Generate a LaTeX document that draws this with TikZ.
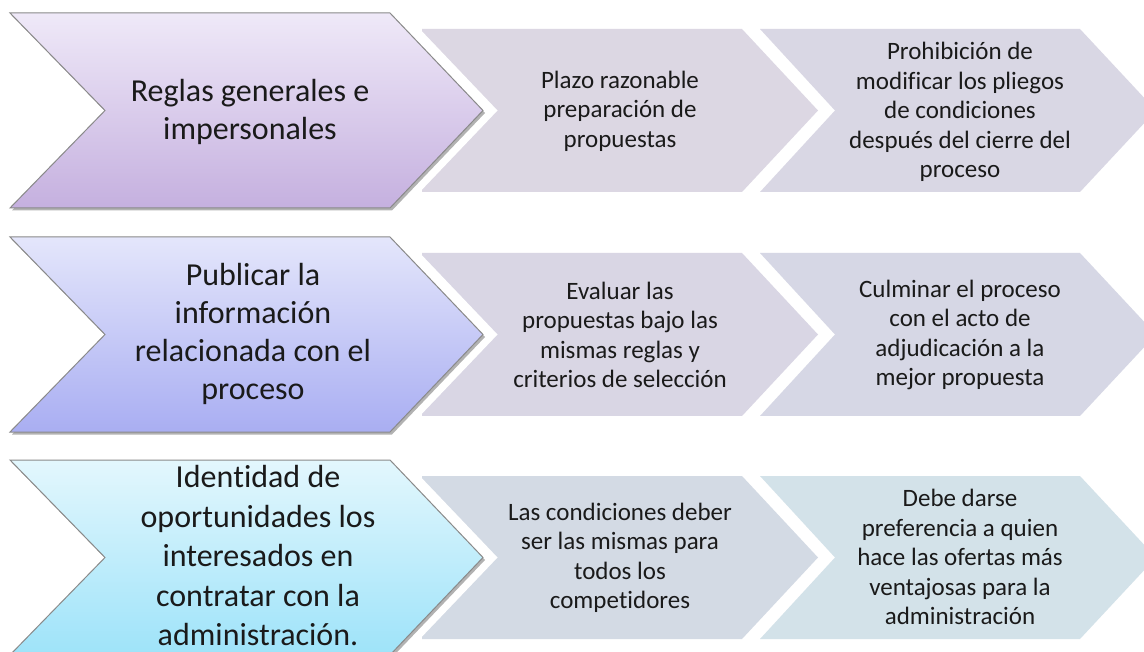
\documentclass[tikz,border=0pt]{standalone}
\usepackage{fontspec}
\setmainfont{Carlito}[Ligatures={NoCommon,NoContextual}]
\usetikzlibrary{shadows}
\newcommand\nolig{\kern0pt }
\definecolor{txt}{HTML}{1A1A1A}
\definecolor{bord}{HTML}{8A8A8A}
\definecolor{sA1}{HTML}{DCD7E3}
\definecolor{sB1}{HTML}{D9D7E4}
\definecolor{sA2}{HTML}{D9D6E4}
\definecolor{sB2}{HTML}{D6D7E5}
\definecolor{sA3}{HTML}{D3DAE4}
\definecolor{sB3}{HTML}{D3E2E9}
\definecolor{t1}{HTML}{EFE9F8}
\definecolor{b1}{HTML}{C5B0DF}
\definecolor{t2}{HTML}{E4E6FB}
\definecolor{b2}{HTML}{A9AEF2}
\definecolor{t3}{HTML}{E3F7FD}
\definecolor{b3}{HTML}{9EE3F9}
\tikzset{
  bigtext/.style={align=center, text=txt, inner sep=0pt, font=\fontsize{32}{38}\selectfont},
  bigtextb/.style={align=center, text=txt, inner sep=0pt, font=\fontsize{32}{39.5}\selectfont},
  smalltext/.style={align=center, text=txt, inner sep=0pt, font=\fontsize{25}{29.5}\selectfont},
  whitegap/.style={draw=white, line width=21pt, line join=miter, miter limit=10},
  bigchevstyle/.style={draw=bord, line width=1pt, line join=miter,
    drop shadow={shadow xshift=2pt, shadow yshift=-2.5pt, fill=black, opacity=0.3}},
}
\newcommand\bigchev[3]{%
  \path[whitegap] (10,#1) -- ++(380,0) -- ++(93,97.5) -- ++(-93,97.5) -- ++(-380,0) -- ++(95,-97.5) -- cycle;
  \path[bigchevstyle, top color=#2, bottom color=#3] (10,#1) -- ++(380,0) -- ++(93,97.5) -- ++(-93,97.5) -- ++(-380,0) -- ++(95,-97.5) -- cycle;
}
\newcommand\firstchev[2]{%
  \fill[#2] (422,#1) -- ++(320,0) -- ++(76,81.5) -- ++(-76,81.5) -- ++(-320,0) -- cycle;
}
\newcommand\secondchev[2]{%
  \fill[#2] (760,#1) -- ++(320,0) -- ++(76,81.5) -- ++(-76,81.5) -- ++(-320,0) -- ++(75,-81.5) -- cycle;
}
\begin{document}
\begin{tikzpicture}[x=1pt, y=-1pt]
\useasboundingbox (0,0) rectangle (1144,652);
\fill[white] (0,0) rectangle (1144,652);
% row 1
\firstchev{29}{sA1}
\secondchev{29}{sB1}
\bigchev{13}{t1}{b1}
% row 2
\firstchev{253}{sA2}
\secondchev{253}{sB2}
\bigchev{237}{t2}{b2}
% row 3
\firstchev{476}{sA3}
\secondchev{476}{sB3}
\bigchev{460}{t3}{b3}
% texts
\node[bigtext] (r1) at (250,112) {Reglas generales e\\impersonales};
\node[bigtext] (r2) at (253,334) {Publicar la\\información\\relacionada con el\\proceso};
\node[bigtextb] (r3) at (258,556) {Iden\nolig tidad de\\oportunidades los\\interesados en\\contratar con la\\administración.};
\node[smalltext] (a1) at (620,111) {Plazo razonable\\preparación de\\propuestas};
\node[smalltext] (b1) at (960,112) {Prohibición de\\modificar los pliegos\\de condiciones\\después del cierre del\\proceso};
\node[smalltext] (a2) at (620,335) {Evaluar las\\propuestas bajo las\\mismas reglas y\\criterios de selección};
\node[smalltext] (b2) at (960,335) {Culminar el proceso\\con el acto de\\adjudicación a la\\mejor propuesta};
\node[smalltext] (a3) at (620,558) {Las condiciones deber\\ser las mismas para\\todos los\\compe\nolig tidores};
\node[smalltext] (b3) at (960,557) {Debe darse\\preferencia a quien\\hace las ofertas más\\ventajosas para la\\administración};
\end{tikzpicture}
\end{document}
